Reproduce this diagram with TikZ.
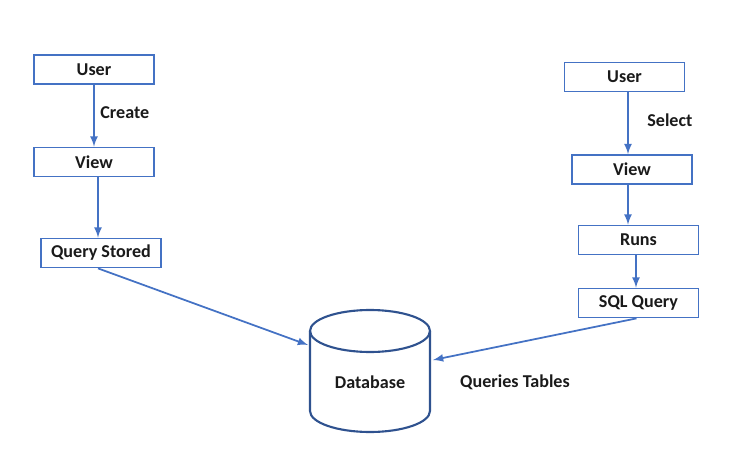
\documentclass[tikz,border=0pt]{standalone}
\usepackage{fontspec}
\setmainfont{Carlito}
\definecolor{boxblue}{HTML}{4472C4}
\definecolor{dbblue}{HTML}{2F528F}
\definecolor{txtgray}{HTML}{1A1A1A}
\tikzset{
  box/.style={draw=boxblue,line width=1pt,fill=white,minimum width=2.4cm,minimum height=0.58cm,
    inner sep=0pt,font=\bfseries\fontsize{10.3}{12}\selectfont,text=txtgray},
  lbl/.style={inner sep=0pt,font=\bfseries\fontsize{10.3}{12}\selectfont,text=txtgray},
  link/.style={draw=boxblue,line width=1pt,-latex}
}
\begin{document}
\begin{tikzpicture}[x=0.02cm,y=-0.02cm]
   \useasboundingbox (0,0) rectangle (751,466);
   % left side: create the view
   \node [box] (luser) at (94,69.5) {User};
   \node [box] (lview) at (94,162) {View};
   \node [box] (lquery) at (101,253) {Query Stored};
   \node [lbl,anchor=west] (create) at (100,112.5) {Create};
   % right side: select from the view
   \node [box] (ruser) at (624.5,77) {User};
   \node [box] (rview) at (632,169.5) {View};
   \node [box] (runs) at (638.5,240) {Runs};
   \node [box] (sql) at (638.5,303) {SQL Query};
   \node [lbl,anchor=west] (select) at (647,120) {Select};
   % database
   \node [minimum width=2.4cm,minimum height=2.42cm,inner sep=0pt] (db) at (370,371.5) {};
   \draw [dbblue,line width=1.2pt] (370,331) ellipse [x radius=1.2cm,y radius=0.42cm];
   \draw [dbblue,line width=1.2pt] (310,331) -- (310,411)
    arc [start angle=180,end angle=360,x radius=1.2cm,y radius=0.42cm] -- (430,331);
   \node [lbl] (dbname) at (370,382) {Database};
   \node [lbl] (qtables) at (515,382) {Queries Tables};
   \coordinate (dbin) at (308,345);
   \coordinate (dbout) at (433,360);
   % arrows
   \draw [link] (luser) -- (lview);
   \draw [link] ([xshift=0.08cm]lview.south) -- ([xshift=0.08cm]lview.south |- lquery.north);
   \draw [link] ([xshift=0.07cm]ruser.south) -- ([xshift=0.07cm]ruser.south |- rview.north);
   \draw [link] ([xshift=-0.08cm]rview.south) -- ([xshift=-0.08cm]rview.south |- runs.north);
   \draw [link] ([xshift=-0.05cm]runs.south) -- ([xshift=-0.05cm]runs.south |- sql.north);
   \draw [link] ([xshift=-0.06cm]lquery.south) -- (dbin);
   \draw [link] ([xshift=-0.04cm]sql.south) -- (dbout);
\end{tikzpicture}
\end{document}
